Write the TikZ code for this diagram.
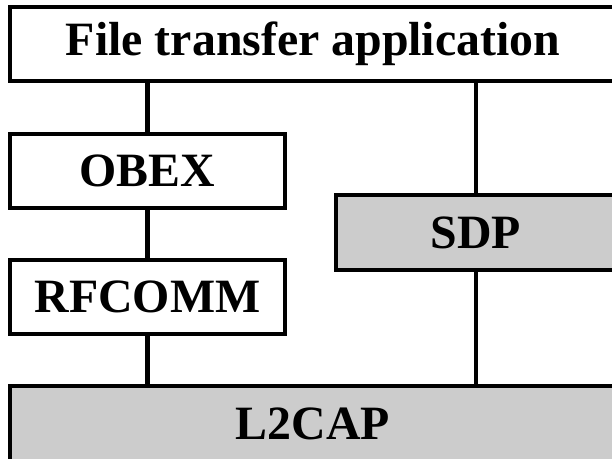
\documentclass[tikz,border=0pt]{standalone}
\usepackage{fontspec}
\setmainfont{Liberation Serif}
\usepackage{tikz}
\usetikzlibrary{positioning,calc}

\begin{document}
\begin{tikzpicture}[
  x=1bp, y=1bp,
  layer/.style={rectangle, draw, line width=4.3bp, fill=white, inner sep=0pt, minimum height=74bp, font=\fontsize{48}{50}\selectfont\bfseries},
  core/.style={layer, fill=black!20},
  link/.style={line width=4.3bp}
]
\useasboundingbox (0,0) rectangle (612,459);

% stack
\node[layer, minimum width=606bp] (app) at (313,415) {File transfer application};
\node[layer, minimum width=275bp] (obex) at (147.5,288) {OBEX};
\node[layer, minimum width=275bp] (rfcomm) at (147.5,162) {RFCOMM};
\node[core, minimum width=280bp, minimum height=75bp] (sdp) at (476,226.5) {SDP};
\node[core, minimum width=606bp, minimum height=75bp] (l2cap) at (313,35.5) {L2CAP};

% links
\draw[link] (obex.north |- app.south) -- (obex.north);
\draw[link] (obex.south) -- (rfcomm.north);
\draw[link] (rfcomm.south) -- (rfcomm.south |- l2cap.north);
\draw[link] (sdp.north |- app.south) -- (sdp.north);
\draw[link] (sdp.south) -- (sdp.south |- l2cap.north);

\end{tikzpicture}
\end{document}
